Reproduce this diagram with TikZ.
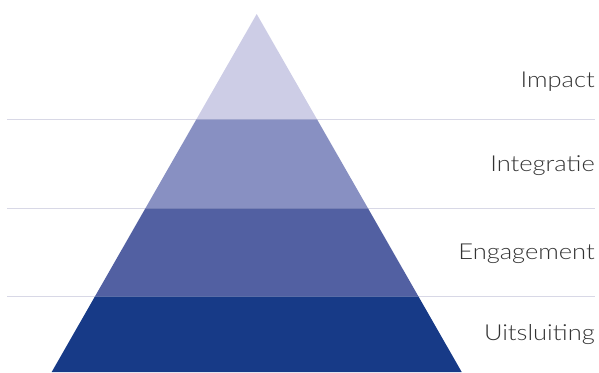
\documentclass[tikz,border=0pt]{standalone}
\usepackage{fontspec}
\setmainfont{Lato}[UprightFont=* Light,FakeStretch=1.16]
\definecolor{bandA}{HTML}{CDCDE6}
\definecolor{bandB}{HTML}{8890C2}
\definecolor{bandC}{HTML}{5260A2}
\definecolor{bandD}{HTML}{173A87}
\definecolor{rule}{HTML}{D8D8E6}
\definecolor{txt}{HTML}{333333}
\begin{document}
\begin{tikzpicture}[x=1pt,y=-1pt,
  sep/.style={draw=rule,line width=1pt},
  lbl/.style={anchor=base east,inner sep=0pt,text=txt,font=\fontsize{22}{24}\selectfont}]
\useasboundingbox (0,0) rectangle (599,372);
% separator lines
\coordinate (l1a) at (7,119.3); \coordinate (l1b) at (595,119.3);
\coordinate (l2a) at (7,208.3); \coordinate (l2b) at (595,208.3);
\coordinate (l3a) at (7,296.7); \coordinate (l3b) at (595,296.7);
\draw[sep] (l1a) -- (l1b);
\draw[sep] (l2a) -- (l2b);
\draw[sep] (l3a) -- (l3b);
% pyramid bands
\coordinate (apex) at (256.7,14);
\fill[bandA] (apex) -- (317.0,119.3) -- (196.4,119.3) -- cycle;
\fill[bandB] (196.4,119.3) -- (317.0,119.3) -- (368.0,208.3) -- (145.4,208.3) -- cycle;
\fill[bandC] (145.4,208.3) -- (368.0,208.3) -- (418.6,296.7) -- (94.8,296.7) -- cycle;
\fill[bandD] (94.8,296.7) -- (418.6,296.7) -- (461.7,372) -- (51.7,372) -- cycle;
% labels
\node[lbl] (impact) at (595,87) {Impact};
\node[lbl] (integratie) at (595,171) {Integratie};
\node[lbl] (engagement) at (595,259.5) {Engagement};
\node[lbl] (uitsluiting) at (595,340) {Uitsluiting};
\end{tikzpicture}
\end{document}
